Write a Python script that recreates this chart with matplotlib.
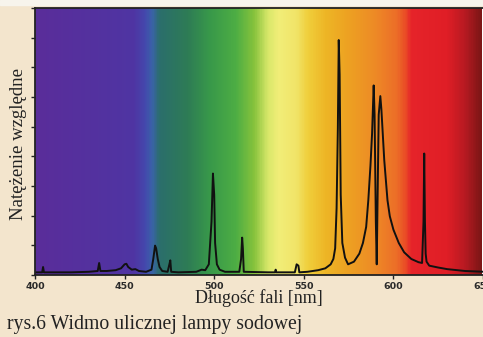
import matplotlib.pyplot as plt
import numpy as np
from matplotlib.colors import LinearSegmentedColormap
from matplotlib.patches import Rectangle

# spectrum (wavelength in nm, relative intensity 0..1)
wavelength = [400, 404, 404.5, 405, 420, 430, 435, 435.8, 436.5, 440, 445, 448,
              450, 451, 452, 454, 456, 458, 462, 465, 466, 467, 467.6, 468.5,
              469.5, 471, 474, 475, 475.5, 476, 480, 490, 493, 495, 497, 498.5,
              499.3, 500, 500.5, 501.5, 503, 506, 514, 515, 515.6, 516, 516.5,
              530, 534, 534.3, 534.6, 545, 546, 547, 547.5, 552, 558, 562, 565,
              566.5, 567.5, 568.3, 569, 569.5, 570, 570.6, 571.5, 573, 574.7,
              578, 581, 583, 584.8, 586, 587.2, 588.1, 589, 589.5, 590.2, 590.7,
              591.2, 591.8, 592.7, 593.3, 594.9, 596.7, 598, 600, 603, 606, 610,
              614, 616, 616.8, 617.2, 617.6, 618, 618.5, 620, 625, 630, 640, 651]
intensity = [0.010, 0.010, 0.030, 0.010, 0.010, 0.012, 0.015, 0.045, 0.015, 0.015,
             0.018, 0.025, 0.040, 0.042, 0.030, 0.020, 0.022, 0.015, 0.012, 0.020,
             0.060, 0.110, 0.100, 0.060, 0.030, 0.015, 0.012, 0.040, 0.055, 0.012,
             0.010, 0.012, 0.020, 0.018, 0.040, 0.200, 0.380, 0.300, 0.120, 0.040,
             0.020, 0.012, 0.012, 0.060, 0.140, 0.100, 0.012, 0.010, 0.010, 0.020,
             0.010, 0.010, 0.040, 0.035, 0.010, 0.012, 0.018, 0.025, 0.040, 0.060,
             0.100, 0.250, 0.550, 0.880, 0.750, 0.300, 0.120, 0.065, 0.040, 0.050,
             0.080, 0.120, 0.180, 0.280, 0.410, 0.530, 0.710, 0.600, 0.200, 0.040,
             0.300, 0.600, 0.670, 0.620, 0.430, 0.280, 0.220, 0.170, 0.120, 0.085,
             0.060, 0.048, 0.045, 0.200, 0.455, 0.200, 0.080, 0.050, 0.035, 0.028,
             0.022, 0.015, 0.012]

xticks = [400, 450, 500, 550, 600, 650]

# colour band behind the curve
band_nm = [400, 455, 461, 465, 469, 485, 497, 512, 522, 530, 536, 546, 552, 562,
           575, 590, 602, 607, 610, 630, 640, 649]
band_col = ['#5a2d9a', '#4f35a3', '#4448ad', '#3a63a8', '#2b6e6c', '#2e7c55',
            '#38984a', '#4eae44', '#86c23c', '#d9e86a', '#f2ee78', '#f1e468',
            '#f0cf3c', '#eeb626', '#eda122', '#ee8a26', '#ec6d28', '#ea4a26',
            '#e6242a', '#e01e26', '#b81a22', '#7e1616']

fig = plt.figure(figsize=(4.83, 3.37), dpi=100)
fig.patch.set_facecolor('#f3e5cd')
fig.patches.append(Rectangle((0, 1 - 5 / 337), 1, 5 / 337, transform=fig.transFigure,
                             color='#f7f4ec', zorder=0))
ax = fig.add_axes([35 / 483, 1 - 275 / 337, 448 / 483, 267 / 337])

lo, hi = 400, 648.3
pos = [(w - lo) / (649 - lo) for w in band_nm]
cmap = LinearSegmentedColormap.from_list('band', list(zip(pos, band_col)))
grad = np.linspace(0, 1, 600).reshape(1, -1)
ax.imshow(grad, cmap=cmap, aspect='auto', extent=[lo, 649, 0, 1], zorder=0)

ax.plot(wavelength, intensity, color='#111111', lw=1.4, zorder=2)

ax.set_xlim(lo, hi)
ax.set_ylim(0, 1)
ax.set_xticks(xticks)
ax.set_xticklabels([str(t) for t in xticks], fontsize=6.8, fontweight='bold',
                   color='#2a2a2a')
ax.set_yticks([i / 9 for i in range(10)])
ax.set_yticklabels([])
ax.tick_params(direction='out', length=3, width=1, color='#222222', pad=2)
for s in ['left', 'bottom', 'top']:
    ax.spines[s].set_linewidth(1.3)
    ax.spines[s].set_color('#222222')
ax.spines['right'].set_visible(False)

ax.set_xlabel('Długość fali [nm]', family='Liberation Serif', fontsize=13,
              color='#222222', labelpad=-1)
ax.set_ylabel('Natężenie względne', family='Liberation Serif', fontsize=13.5,
              color='#222222')
ax.yaxis.set_label_coords(-8 / 448, 0.49)
fig.text(7 / 483, 1 - 324 / 337, 'rys.6 Widmo ulicznej lampy sodowej',
         family='Liberation Serif', fontsize=14.2, color='#222222', va='center')

fig.savefig('out.png', dpi=100, facecolor=fig.get_facecolor())
